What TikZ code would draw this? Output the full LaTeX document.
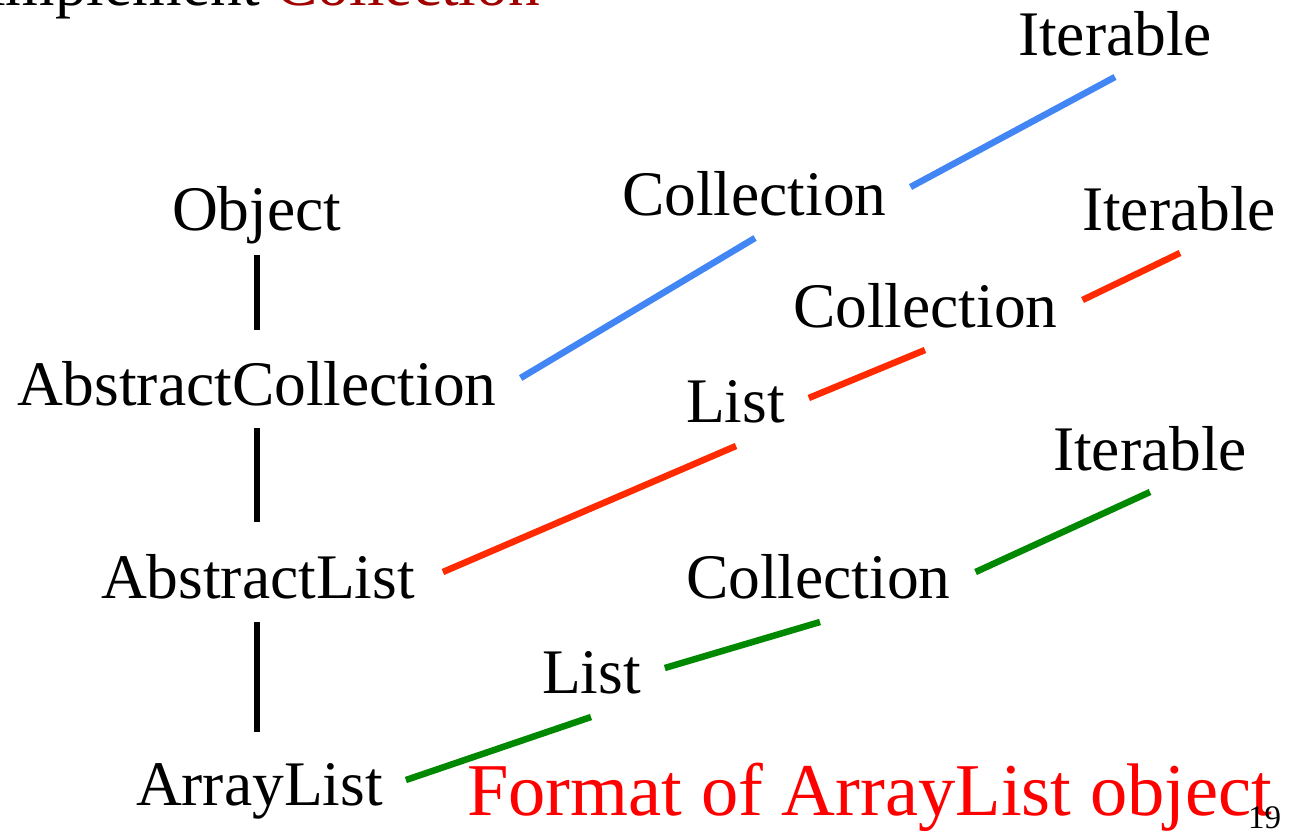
\documentclass[tikz,border=0pt]{standalone}
\usepackage{fontspec}
\setmainfont{Liberation Serif}
\usetikzlibrary{calc}
\definecolor{linkblue}{RGB}{66,133,244}
\definecolor{linkred}{RGB}{255,42,0}
\definecolor{linkgreen}{RGB}{0,136,0}
\definecolor{headred}{RGB}{160,0,0}
\begin{document}
\begin{tikzpicture}[x=1pt,y=-1pt,
  lbl/.style={anchor=base west,inner sep=0pt,outer sep=0pt,font=\fontsize{63.5}{70}\selectfont},
  hier/.style={line width=6.5pt,black},
  blueln/.style={line width=6.5pt,linkblue},
  redln/.style={line width=6.5pt,linkred},
  greenln/.style={line width=6.5pt,linkgreen}]
\clip (0,0) rectangle (1289,833);
\fill[white] (0,0) rectangle (1289,833);

% heading, partly above the page
\node[lbl] (hdr) at (-12,5) {implement \textcolor{headred}{Collection}};

% class hierarchy
\node[lbl] (obj) at (172,230) {Object};
\node[lbl] (ac)  at (17,405)  {AbstractCollection};
\node[lbl] (al)  at (101,598) {AbstractList};
\node[lbl] (arl) at (136,805) {ArrayList};

% interfaces
\node[lbl] (it1) at (1018,55)  {Iterable};
\node[lbl] (co1) at (622,215)  {Collection};
\node[lbl] (it2) at (1082,230) {Iterable};
\node[lbl] (co2) at (793,327)  {Collection};
\node[lbl] (li1) at (686,422)  {List};
\node[lbl] (it3) at (1053,470) {Iterable};
\node[lbl] (co3) at (686,598)  {Collection};
\node[lbl] (li2) at (542,693)  {List};

\node[anchor=base west,inner sep=0pt,text=red,font=\fontsize{74.5}{80}\selectfont] (fmt) at (467,815) {Format of ArrayList object};
\node[anchor=base west,inner sep=0pt,font=\fontsize{33}{36}\selectfont] (pg) at (1248,828) {19};

% superclass chain
\draw[hier] ($(ac.base)+(0,-150)$) -- ($(ac.base)+(0,-75)$);
\draw[hier] ($(ac.base)+(0,23)$) -- ($(ac.base)+(0,117)$);
\draw[hier] ($(ac.base)+(0,217)$) -- ($(ac.base)+(0,327)$);

% AbstractCollection implements Collection
\draw[blueln] ($(ac.base east)+(24,-27)$) -- ($(co1.base west)+(133,23)$);
\draw[blueln] ($(co1.base east)+(24,-28)$) -- ($(it1.base west)+(97,22)$);

% AbstractList implements List
\draw[redln] ($(al.base east)+(28,-26)$) -- ($(li1.base west)+(50,24)$);
\draw[redln] ($(li1.base east)+(24,-24)$) -- ($(co2.base west)+(132,23)$);
\draw[redln] ($(co2.base east)+(25,-27)$) -- ($(it2.base west)+(98,23)$);

% ArrayList implements List
\draw[greenln] ($(arl.base east)+(23,-25)$) -- ($(li2.base west)+(49,24)$);
\draw[greenln] ($(li2.base east)+(24,-25)$) -- ($(co3.base west)+(134,24)$);
\draw[greenln] ($(co3.base east)+(25,-26)$) -- ($(it3.base west)+(97,22)$);
\end{tikzpicture}
\end{document}
